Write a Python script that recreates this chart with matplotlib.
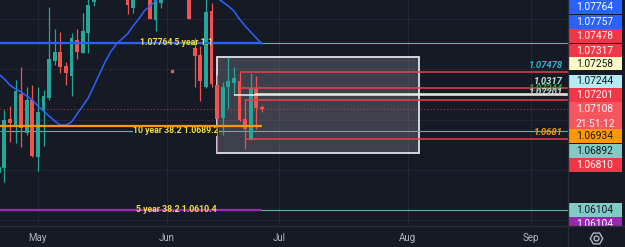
import numpy as np
import matplotlib
matplotlib.use('Agg')
import matplotlib.pyplot as plt
from matplotlib.patches import Rectangle
from matplotlib.lines import Line2D

plt.rcParams['font.family'] = ['Roboto', 'DejaVu Sans']

# daily bars, bar 0 = Apr 22
opens = [1.06471, 1.06521, 1.07008, 1.06929, 1.07257, 1.06869, 1.07197, 1.06630, 1.07088, 1.07217,
         1.07585, 1.07674, 1.07535, 1.07436, 1.07793, 1.07664, 1.07863, 1.08171, 1.0882, 1.0866,
         1.0871, 1.0857, 1.0855, 1.0822, 1.08111, 1.0847, 1.0857, 1.0859, 1.07992, 1.08161,
         1.0849, 1.0902, 1.0875, 1.0867, 1.0889, 1.07714, 1.07644, 1.07326, 1.08082, 1.07346,
         1.07018, 1.07326, 1.07366, 1.07386, 1.07008, 1.06799, 1.07306, 1.07125]
highs = [1.06551, 1.07098, 1.07137, 1.07396, 1.07525, 1.07326, 1.07346, 1.07326, 1.07296, 1.08121,
         1.07903, 1.07873, 1.07575, 1.07863, 1.07903, 1.08062, 1.0830, 1.0886, 1.0895, 1.0880,
         1.0878, 1.0865, 1.0862, 1.0858, 1.0858, 1.0865, 1.0889, 1.0866, 1.0845, 1.0852,
         1.0904, 1.0907, 1.0886, 1.0902, 1.0902, 1.07813, 1.07734, 1.0852, 1.08161, 1.07445,
         1.07376, 1.07624, 1.07525, 1.07475, 1.07207, 1.07465, 1.07436, 1.07147]
lows = [1.06451, 1.06382, 1.06780, 1.06770, 1.06730, 1.06849, 1.06630, 1.06491, 1.06740, 1.07197,
        1.07545, 1.07465, 1.07346, 1.07237, 1.07605, 1.07664, 1.07664, 1.08131, 1.0856, 1.0840,
        1.0850, 1.0835, 1.0822, 1.08052, 1.08062, 1.0836, 1.0848, 1.08002, 1.07883, 1.08111,
        1.0834, 1.0866, 1.0860, 1.0862, 1.08002, 1.07326, 1.07187, 1.07316, 1.07326, 1.06680,
        1.06849, 1.07117, 1.07247, 1.06988, 1.06710, 1.06799, 1.06909, 1.07078]
closes = [1.06531, 1.06998, 1.06968, 1.07286, 1.06919, 1.07197, 1.06640, 1.07078, 1.07237, 1.07605,
          1.07674, 1.07525, 1.07465, 1.07813, 1.07674, 1.07883, 1.08141, 1.0882, 1.0866, 1.0871,
          1.0857, 1.0855, 1.0822, 1.08141, 1.0847, 1.0857, 1.0859, 1.08002, 1.0830, 1.0849,
          1.0902, 1.0875, 1.0867, 1.0889, 1.08002, 1.07634, 1.07386, 1.08072, 1.07356, 1.07008,
          1.07326, 1.07386, 1.07416, 1.06998, 1.06909, 1.07316, 1.07117, 1.07108]

# moving average
ma_values = [1.07455, 1.07406, 1.07346, 1.07306, 1.07276, 1.07237, 1.07197, 1.07137, 1.07088, 1.07038,
             1.06988, 1.06948, 1.06948, 1.06978, 1.07058, 1.07137, 1.07217, 1.07336, 1.07455, 1.07575,
             1.07674, 1.07754, 1.07803, 1.07853, 1.07933, 1.08002, 1.08082, 1.08131, 1.08181, 1.08231,
             1.08271, 1.08290, 1.08310, 1.08320, 1.08320, 1.08310, 1.08290, 1.08271, 1.08241, 1.08211,
             1.08171, 1.08131, 1.08082, 1.08002, 1.07933, 1.07873, 1.07813, 1.07757]

month_labels = ['May', 'Jun', 'Jul', 'Aug', 'Sep']
month_bars = [7, 30, 50, 73, 95]

current_price = 1.07108

# long term levels (drawn up to the last bar)
level_prices = [1.07764, 1.06934, 1.06104]
level_colors = ['#2962ff', '#ff9800', '#9c27b0']
thin_prices = [1.07764, 1.06892, 1.06104]

# rays to the right
ray_prices = [1.07478, 1.07317, 1.07258, 1.07244, 1.07201, 1.06810]
ray_starts = [43, 43, 45.8, 42, 44, 44]
ray_colors = ['#e8404e', '#e8404e', '#fff3c4', '#e6f4f7', '#e8404e', '#e8404e']

ray_texts = ['1.07478', '1.0317', '1.07244', '1.07201', '1.0681']
ray_text_prices = [1.07478, 1.07317, 1.07244, 1.07201, 1.06810]
ray_text_colors = ['#2bb7cc', '#b8e4e0', '#3f9a45', '#c8cbd3', '#ff9800']

level_texts = ['1.07764 5 year 1.1', '10 year 38.2 1.0689.2', '5 year 38.2 1.0610.4']
level_text_prices = [1.07764, 1.06892, 1.06104]

box_bars = (39.04, 75.1)
box_prices = (1.06670, 1.07624)

scale_labels = ['1.07764', '1.07757', '1.07478', '1.07317', '1.07258', '1.07244', '1.07201',
                '1.07108\n21:51:12', '1.06934', '1.06892', '1.06810', '1.06104', '1.06104']
scale_bg = ['#2962ff', '#2962ff', '#f23645', '#f23645', '#fff9c4', '#b2ebf2', '#f23645',
            '#f5555d', '#ff9800', '#80cbc4', '#f23645', '#80cbc4', '#9c27b0']
scale_fg = ['white', 'white', 'white', 'white', '#131722', '#131722', 'white',
            'white', '#131722', '#131722', 'white', '#131722', 'white']
scale_y = [7, 22, 36, 51, 63.5, 81, 95, 116.5, 136, 151, 165, 210, 224]
scale_h = [14, 14, 14, 14, 13, 13, 14, 29, 14, 14, 14, 14, 14]

bg = '#161a25'
up, down = '#26a69a', '#ef5350'
W, H = 625, 247

fig = plt.figure(figsize=(W / 100, H / 100), dpi=100, facecolor=bg)
ax = fig.add_axes([0, 21 / H, 568 / W, 226 / H])
ax.set_facecolor(bg)
ax.set_axisbelow(True)

x = np.arange(len(opens))
o = np.array(opens); c = np.array(closes)
cols = np.where(c >= o, up, down)
ax.vlines(x, lows, highs, colors=cols, lw=0.9, zorder=2)
body = np.maximum(np.abs(c - o), 0.0001)
ax.bar(x, body, bottom=np.minimum(o, c), width=0.7, color=cols, lw=0, zorder=2.1)

ax.plot(x, ma_values, color='#2962ff', lw=1.1, zorder=3)

# box
ax.add_patch(Rectangle((box_bars[0], box_prices[0]), box_bars[1] - box_bars[0],
                       box_prices[1] - box_prices[0], facecolor=(0.7, 0.71, 0.75, 0.25),
                       edgecolor='#e0e3eb', lw=1.3, zorder=1))

xmin, xmax = 1.3 / 5.6, 569.3 / 5.6
last = x[-1]

for p in thin_prices:
    ax.hlines(p, xmin, xmax, color='#5fb3a6', lw=0.8, zorder=1.2)
for p, col in zip(level_prices, level_colors):
    ax.hlines(p, xmin, last, color=col, lw=1.6, zorder=6)

for p, s, col in zip(ray_prices, ray_starts, ray_colors):
    ax.hlines(p, s, xmax, color=col, lw=1.1, zorder=4)

ax.axhline(current_price, color='#ef5350', lw=0.8, ls=(0, (1, 2)), alpha=0.6, zorder=1.5)
ax.plot([31], [1.07485], 's', color='#ef5350', ms=1.8, zorder=4)

for t, p in zip(level_texts, level_text_prices):
    kw = {}
    if t.startswith('10'):
        kw = dict(bbox=dict(boxstyle='square,pad=0.05', fc=bg, ec='none'))
    ax.text(31.7, p, t, color='#eedc45', fontsize=6.3, fontweight='bold',
            ha='center', va='center', zorder=7 if not kw else 1.6, **kw)

for t, p, col in zip(ray_texts, ray_text_prices, ray_text_colors):
    ax.annotate(t, (100.8, p), xytext=(0, 1.5), textcoords='offset points',
                ha='right', va='bottom', color=col, fontsize=6.8,
                fontweight='bold', fontstyle='italic', zorder=8)

ax.set_xlim(xmin, xmax)
ax.set_ylim(1.05944, 1.08191)
ax.set_xticks(month_bars)
ax.set_xticklabels(month_labels)
ax.set_yticks([1.060, 1.065, 1.070, 1.075, 1.080])
ax.set_yticklabels([])
ax.tick_params(axis='x', length=0, pad=5, labelcolor='#b2b5be', labelsize=7)
ax.tick_params(axis='y', length=0)
ax.grid(True, color='#232734', lw=0.7)
for s in ax.spines.values():
    s.set_visible(False)

# price scale labels
pax = fig.add_axes([568 / W, 21 / H, 57 / W, 226 / H])
pax.set_xlim(0, 57)
pax.set_ylim(226, 0)
pax.axis('off')
for lab, b, f, yc, h in zip(scale_labels, scale_bg, scale_fg, scale_y, scale_h):
    pax.add_patch(Rectangle((0.4, yc - h / 2), 53.3, h, facecolor=b, edgecolor='none'))
    if '\n' in lab:
        a, t2 = lab.split('\n')
        pax.text(27, yc - 7.2, a, color=f, fontsize=7.3, ha='center', va='center', clip_on=True)
        pax.text(27, yc + 7.2, t2, color=f, fontsize=7.3, ha='center', va='center', clip_on=True)
    else:
        pax.text(27, yc, lab, color=f, fontsize=7.3, ha='center', va='center', clip_on=True)

# separators and settings icon
fig.add_artist(Line2D([0, 1], [21 / H, 21 / H], color='#2a2e39', lw=1, transform=fig.transFigure))
fig.add_artist(Line2D([568 / W, 568 / W], [0, 1], color='#2a2e39', lw=1, transform=fig.transFigure))
fig.add_artist(Line2D([596 / W], [1 - 238 / H], marker='H', ms=9, mfc='none', mec='#b2b5be',
                      mew=1, transform=fig.transFigure))
fig.add_artist(Line2D([596 / W], [1 - 238 / H], marker='o', ms=3.5, mfc='none', mec='#b2b5be',
                      mew=1, transform=fig.transFigure))

fig.savefig('out.png', dpi=100, facecolor=bg)
